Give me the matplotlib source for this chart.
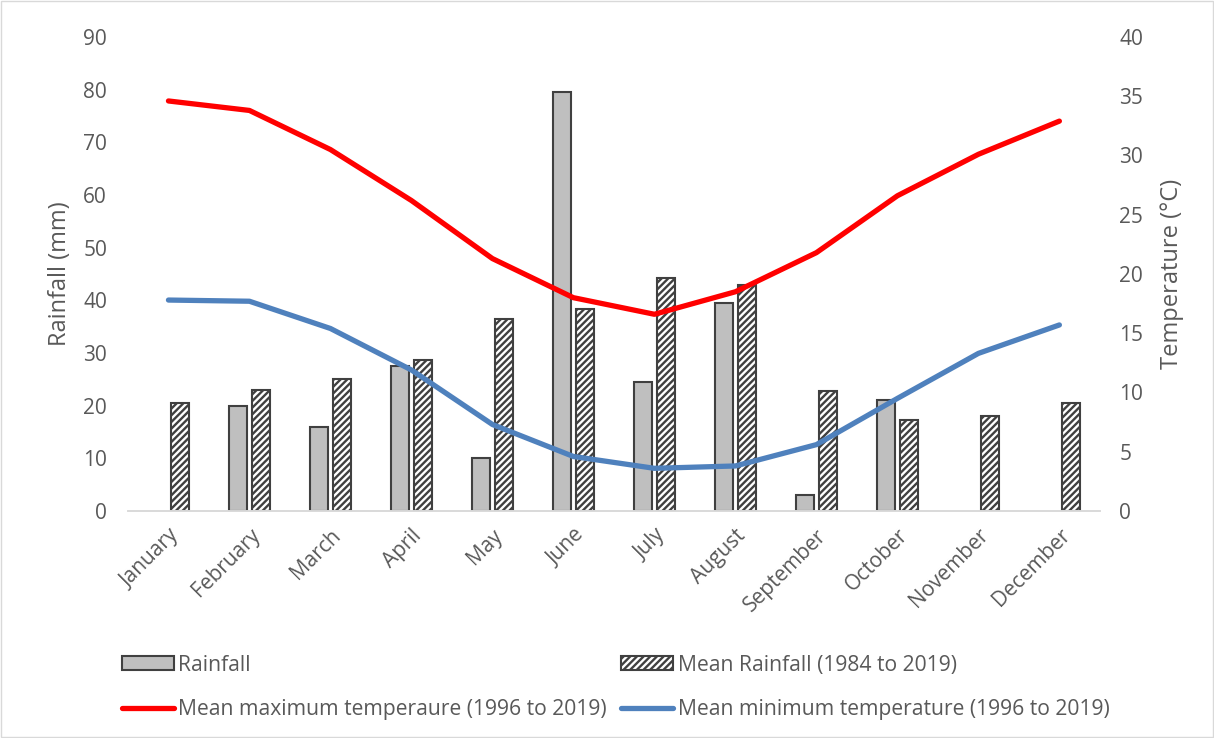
import matplotlib
matplotlib.use("Agg")
import matplotlib.pyplot as plt
import numpy as np
from matplotlib.patches import Rectangle, Patch

plt.rcParams['font.family'] = ['Open Sans', 'DejaVu Sans']
plt.rcParams['hatch.linewidth'] = 1.7

months = ["January", "February", "March", "April", "May", "June", "July",
          "August", "September", "October", "November", "December"]
rainfall = [0, 20, 16, 27.5, 10, 79.5, 24.5, 39.5, 3, 21, 0, 0]
mean_rainfall = [20.5, 23, 25, 28.7, 36.4, 38.3, 44.2, 43, 22.8, 17.3, 18, 20.5]
mean_max_temp = [34.6, 33.8, 30.5, 26.2, 21.3, 18.0, 16.6, 18.5, 21.8, 26.6, 30.1, 32.9]
mean_min_temp = [17.8, 17.7, 15.4, 11.9, 7.3, 4.6, 3.6, 3.8, 5.6, 9.5, 13.3, 15.7]

text_col = "#595959"
fs_tick = 15
fs_label = 17
fs_leg = 15.2

fig = plt.figure(figsize=(12.14, 7.38), dpi=100)
ax = fig.add_axes([0.1054, 0.3076, 0.8006, 0.6423])
ax2 = ax.twinx()

x = np.arange(len(months))
w = 0.225
off = 0.142
rain_bars = ax.bar(x - off, rainfall, w, facecolor="#bfbfbf", edgecolor="#404040",
                   linewidth=1.5, zorder=2)
# empty months get no outline
for b, v in zip(rain_bars, rainfall):
    if v == 0:
        b.set_linewidth(0)
mean_bars = ax.bar(x + off, mean_rainfall, w, facecolor="white", edgecolor="#404040",
                   hatch="/////", linewidth=1.5, zorder=2)

max_line, = ax2.plot(x, mean_max_temp, color="#ff0000", linewidth=3.8,
                     solid_capstyle="round")
min_line, = ax2.plot(x, mean_min_temp, color="#4f81bd", linewidth=3.8,
                     solid_capstyle="round")

ax.set_xlim(-0.5, len(months) - 0.5)
ax.set_ylim(0, 90)
ax.set_yticks(np.arange(0, 91, 10))
ax2.set_ylim(0, 40)
ax2.set_yticks(np.arange(0, 41, 5))

ax.set_xticks(x)
ax.set_xticklabels(months, rotation=45, ha="right", rotation_mode="anchor")

for a in (ax, ax2):
    for s in ("top", "left", "right"):
        a.spines[s].set_visible(False)
    a.spines["bottom"].set_color("#d9d9d9")
    a.spines["bottom"].set_linewidth(1.2)
    a.tick_params(length=0, labelsize=fs_tick, labelcolor=text_col)
ax.tick_params(axis="y", pad=15)
ax2.tick_params(axis="y", pad=14)
ax.tick_params(axis="x", pad=10)

ax.set_ylabel("Rainfall (mm)", fontsize=fs_label, color=text_col, labelpad=8)
ax2.set_ylabel("Temperature (°C)", fontsize=fs_label, color=text_col, labelpad=12)

rain_handle = Patch(facecolor="#bfbfbf", edgecolor="#404040", linewidth=1.5)
mean_handle = Patch(facecolor="white", edgecolor="#404040", hatch="/////", linewidth=1.5)
handles = [rain_handle, max_line, mean_handle, min_line]
labels = ["Rainfall", "Mean maximum temperaure (1996 to 2019)",
          "Mean Rainfall (1984 to 2019)", "Mean minimum temperature (1996 to 2019)"]
fig.legend(handles, labels, loc="upper left", bbox_to_anchor=(0.1005, 0.113),
           ncol=2, frameon=False, fontsize=fs_leg, labelcolor=text_col,
           handlelength=2.47, handleheight=0.67, handletextpad=0.2, columnspacing=0.68,
           labelspacing=1.1, borderaxespad=0, borderpad=0)

fig.patches.append(Rectangle((0.001, 0.001), 0.998, 0.998, transform=fig.transFigure,
                             fill=False, edgecolor="#d9d9d9", linewidth=1))

fig.savefig("out.png", dpi=100)
